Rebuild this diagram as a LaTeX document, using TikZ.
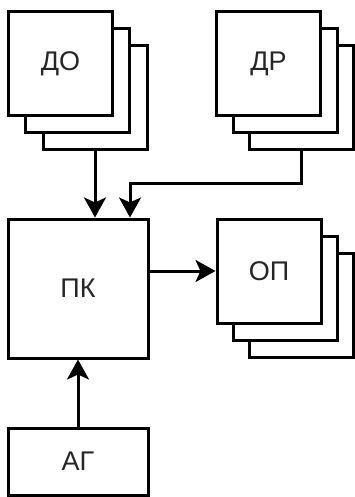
\documentclass[tikz,border=0pt]{standalone}
\usepackage{fontspec}
\setmainfont{Liberation Sans}
\usetikzlibrary{arrows.meta}
\begin{document}
\begin{tikzpicture}[x=1pt,y=-1pt,
  box/.style={draw=black,line width=3pt,fill=white,inner sep=0pt,font=\fontsize{27}{30}\selectfont,text=black!85},
  sq/.style={box,minimum width=104pt,minimum height=104pt},
  conn/.style={line width=3pt,-{Stealth[length=20pt,width=22pt,inset=5pt]}}]
\useasboundingbox (0,0) rectangle (354,497);
% ДО stack
\node[sq] (do3) at (95,98) {};
\node[sq] (do2) at (77.5,81) {};
\node[sq] (do1) at (60.5,64) {ДО};
% ДР stack
\node[sq] (dr3) at (301.5,98) {};
\node[sq] (dr2) at (285,81) {};
\node[sq] (dr1) at (268.5,64) {ДР};
% ПК
\node[box,minimum width=140pt,minimum height=139pt] (pk) at (78,288.5) {ПК};
% ОП stack
\node[sq] (op3) at (301.5,305) {};
\node[sq] (op2) at (285.5,288) {};
\node[sq] (op1) at (269,271) {ОП};
% АГ
\node[box,minimum width=140pt,minimum height=67pt] (ag) at (78,461.5) {АГ};
% connectors
\coordinate (bend) at (301.5,183);
\coordinate (bend2) at (130,183);
\draw[conn] (do3.south) -- (do3.south |- pk.north);
\draw[conn] (dr3.south) -- (bend) -- (bend2) -- (bend2 |- pk.north);
\draw[conn] (pk.east |- op1.west) -- (op1.west);
\draw[conn] (ag.north) -- (pk.south);
\end{tikzpicture}
\end{document}
